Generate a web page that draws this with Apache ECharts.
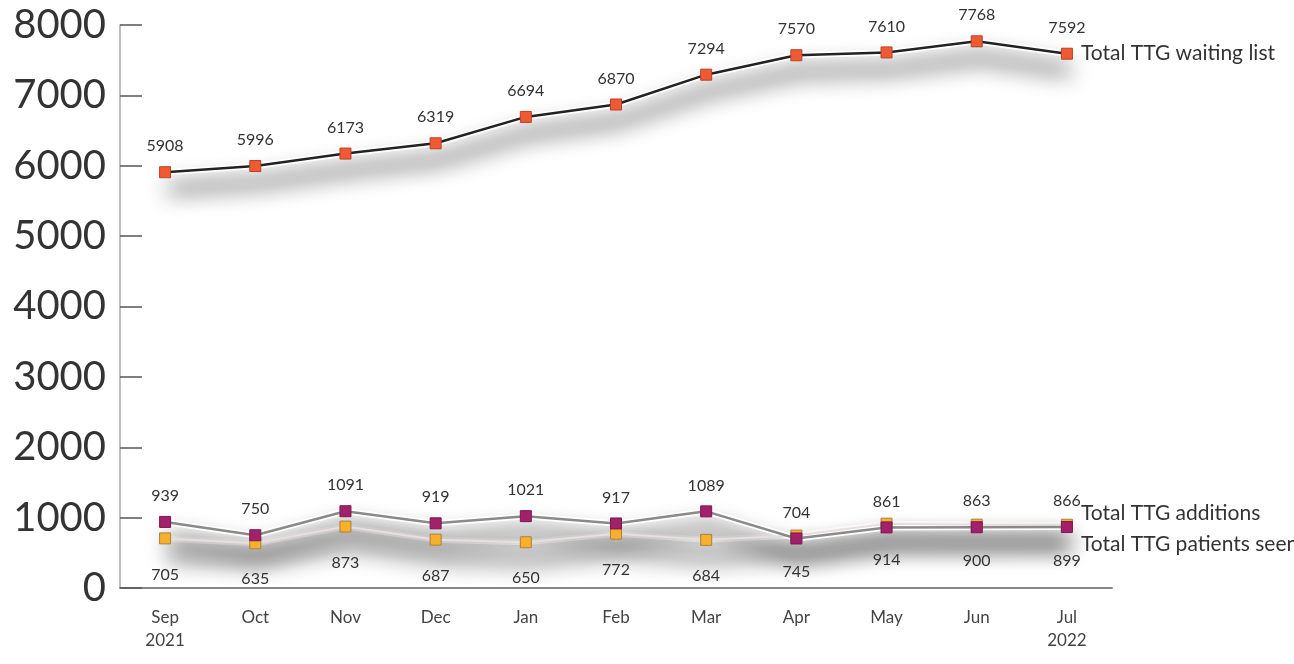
<!DOCTYPE html>
<html>
<head>
<meta charset="utf-8">
<script src="https://cdn.jsdelivr.net/npm/echarts@6/dist/echarts.min.js"></script>
<style>
  html, body { margin: 0; padding: 0; background: #fff; }
  #chart { width: 1294px; height: 664px; }
</style>
</head>
<body>
<div id="chart"></div>
<script>
  // months, Sep 2021 - Jul 2022
  const months = ['Sep\n2021', 'Oct', 'Nov', 'Dec', 'Jan', 'Feb', 'Mar', 'Apr', 'May', 'Jun', 'Jul\n2022'];
  const waitingList = [5908, 5996, 6173, 6319, 6694, 6870, 7294, 7570, 7610, 7768, 7592];
  const additions = [939, 750, 1091, 919, 1021, 917, 1089, 704, 861, 863, 866];
  const patientsSeen = [705, 635, 873, 687, 650, 772, 684, 745, 914, 900, 899];
  const yTicks = [0, 1000, 2000, 3000, 4000, 5000, 6000, 7000, 8000];

  const font = 'Lato, "Open Sans", sans-serif';

  // soft grey band under a line (the white stroke only casts the shadow)
  function shadowSeries(data) {
    return {
      type: 'line',
      data: data,
      silent: true,
      symbol: 'none',
      z: 1,
      lineStyle: {
        color: '#fff',
        width: 6,
        shadowColor: 'rgba(0,0,0,0.95)',
        shadowBlur: 22,
        shadowOffsetX: 3,
        shadowOffsetY: 17,
      },
    };
  }

  const dataLabel = { show: true, color: '#333', fontFamily: font, fontSize: 16 };
  const nameLabel = { show: true, formatter: '{a}', color: '#333', fontFamily: font, fontSize: 21, distance: 14 };

  const chart = echarts.init(document.getElementById('chart'));

  const option = {
    animation: false,
    grid: { left: 120, right: 182, top: 25, bottom: 76 },
    xAxis: {
      type: 'category',
      data: months,
      boundaryGap: true,
      axisLine: { lineStyle: { color: '#888', width: 2 } },
      axisTick: { inside: true, length: 10, lineStyle: { color: '#777' } },
      axisLabel: { color: '#444', fontFamily: font, fontSize: 17, margin: 18, lineHeight: 23 },
    },
    yAxis: {
      type: 'value',
      min: yTicks[0],
      max: yTicks[yTicks.length - 1],
      interval: 1000,
      splitLine: { show: false },
      axisLine: { show: true, lineStyle: { color: '#aaa', width: 1.5 } },
      axisTick: { show: true, inside: true, length: 22, lineStyle: { color: '#555', width: 1.5 } },
      axisLabel: { color: '#333', fontFamily: font, fontSize: 40, margin: 14, formatter: (v) => String(v) },
    },
    series: [
      shadowSeries(waitingList),
      shadowSeries(patientsSeen),
      shadowSeries(additions),
      {
        name: 'Total TTG waiting list',
        type: 'line',
        data: waitingList,
        symbol: 'rect',
        symbolSize: 11,
        lineStyle: { color: '#222', width: 2.5 },
        itemStyle: { color: '#f05a32', borderColor: '#b8402a', borderWidth: 1 },
        label: Object.assign({ position: 'top', distance: 12 }, dataLabel),
        endLabel: nameLabel,
        z: 3,
      },
      {
        name: 'Total TTG patients seen',
        type: 'line',
        data: patientsSeen,
        symbol: 'rect',
        symbolSize: 11,
        lineStyle: { color: '#e8dede', width: 2 },
        itemStyle: { color: '#f8b02a', borderColor: '#a88040', borderWidth: 1 },
        label: Object.assign({ position: 'bottom', distance: 22 }, dataLabel),
        endLabel: Object.assign({ offset: [0, 20] }, nameLabel),
        z: 3,
      },
      {
        name: 'Total TTG additions',
        type: 'line',
        data: additions,
        symbol: 'rect',
        symbolSize: 11,
        lineStyle: { color: '#8a8a8a', width: 2.5 },
        itemStyle: { color: '#a3206b', borderColor: '#7a1850', borderWidth: 1 },
        label: Object.assign({ position: 'top', distance: 12 }, dataLabel),
        endLabel: Object.assign({ offset: [0, -14] }, nameLabel),
        z: 4,
      },
    ],
  };

  chart.setOption(option);
  window.addEventListener('resize', () => chart.resize());
</script>
</body>
</html>
